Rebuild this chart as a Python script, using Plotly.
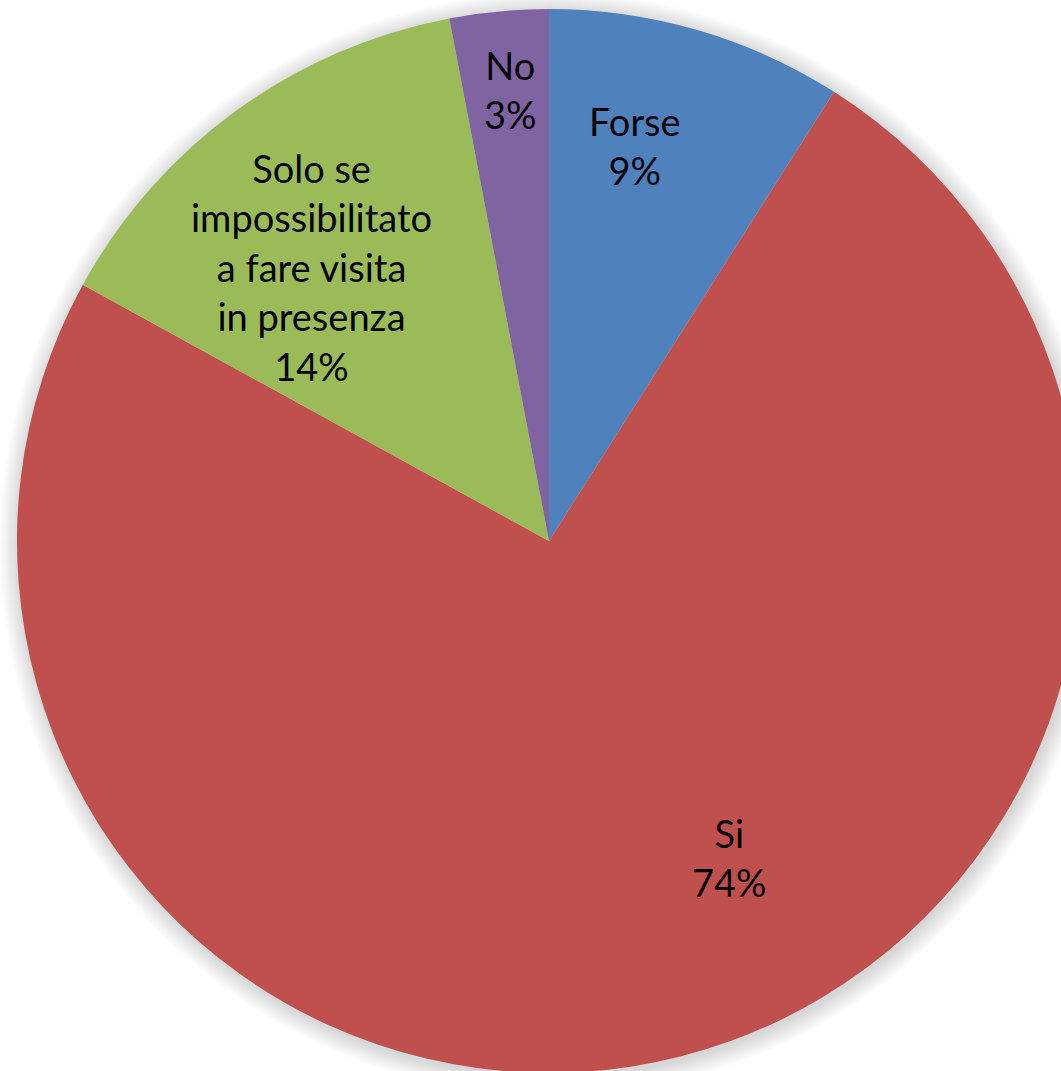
import plotly.graph_objects as go

# Survey answers, clockwise from 12 o'clock
categories = ["Forse", "Si", "Solo se<br>impossibilitato<br>a fare visita<br>in presenza", "No"]
shares = [9, 74, 14, 3]
slice_colors = ["#4F81BD", "#C0504D", "#9BBB59", "#8064A2"]

# Canvas (pixels) and pie geometry
W, H = 1100, 1100
CX, CY, R = 549, 541, 532          # pie centre and radius in pixels (y from top)


def px(x):
    return x / W


def py(y):
    return 1 - y / H


fig = go.Figure()

fig.add_trace(go.Pie(
    labels=categories,
    values=shares,
    sort=False,
    direction="clockwise",
    rotation=0,
    marker=dict(colors=slice_colors, line=dict(width=0)),
    textinfo="none",
    hoverinfo="label+percent",
    showlegend=False,
    domain=dict(x=[px(CX - R), px(CX + R)], y=[py(CY + R), py(CY - R)]),
))

# Soft drop shadow around the pie: stacked translucent discs
shapes = []
for k in range(1, 21):
    rr = R + k
    ox, oy = 2, 3
    shapes.append(dict(
        type="circle", xref="paper", yref="paper", layer="below",
        x0=px(CX + ox - rr), x1=px(CX + ox + rr),
        y0=py(CY + oy + rr), y1=py(CY + oy - rr),
        fillcolor="rgba(0,0,0,0.0065)", line=dict(width=0),
    ))

# Data labels: category name + share, placed inside each slice
label_pos = [(635, 145), (729, 857), (311, 267), (510, 89)]
annotations = []
for name, v, (x, y) in zip(categories, shares, label_pos):
    annotations.append(dict(
        x=px(x), y=py(y), xref="paper", yref="paper",
        text=f"{name}<br>{v}%", showarrow=False,
        font=dict(family="Lato, Carlito, Calibri, sans-serif", size=38, color="#000000"),
        align="center", xanchor="center", yanchor="middle",
    ))

fig.update_layout(
    width=W, height=H,
    margin=dict(l=0, r=0, t=0, b=0),
    paper_bgcolor="#FFFFFF",
    plot_bgcolor="#FFFFFF",
    shapes=shapes,
    annotations=annotations,
)

fig.write_html(
    "out.html",
    post_script="document.documentElement.style.overflow='hidden';document.body.style.overflow='hidden';document.body.style.margin='0';",
)
